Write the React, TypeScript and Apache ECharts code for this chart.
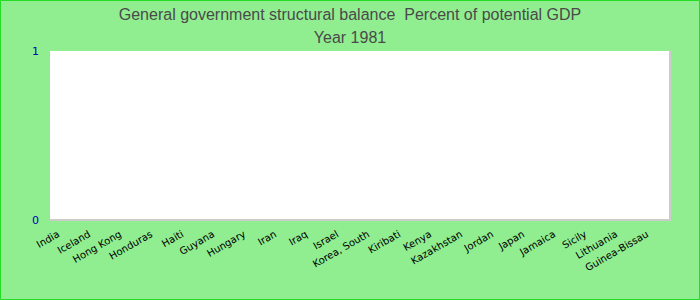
import React, { useEffect, useRef } from "react";
import * as echarts from "echarts";

const titleText = "General government structural balance  Percent of potential GDP";
const subtitleText = "Year 1981";
const categories = [
  "India", "Iceland", "Hong Kong", "Honduras", "Haiti", "Guyana", "Hungary",
  "Iran", "Iraq", "Israel", "Korea, South", "Kiribati", "Kenya", "Kazakhstan",
  "Jordan", "Japan", "Jamaica", "Sicily", "Lithuania", "Guinea-Bissau",
];
// No values are shown for 1981 in the reference
const values: (number | null)[] = categories.map(() => null);
const yTicks = [0, 1];

export default function App() {
  const ref = useRef<HTMLDivElement>(null);
  useEffect(() => {
    document.body.style.margin = "0";
    const chart = echarts.init(ref.current!, null, { renderer: "svg" });
    const titleStyle = {
      fontFamily: "Arial, Liberation Sans",
      fontSize: 16,
      fontWeight: "normal",
      color: "#4a4a4a",
    };
    chart.setOption({
      animation: false,
      backgroundColor: "#90EE90",
      title: [
        { text: titleText, left: "center", top: 1, textStyle: titleStyle },
        { text: subtitleText, left: "center", top: 24, textStyle: titleStyle },
      ],
      graphic: [
        {
          type: "rect",
          shape: { x: 0.5, y: 0.5, width: 699, height: 299 },
          style: { fill: "none", stroke: "#22dd22", lineWidth: 1 },
          silent: true,
        },
      ],
      grid: { left: 50, right: 30, top: 51, bottom: 80, show: true, backgroundColor: "#ffffff", borderWidth: 0 },
      xAxis: {
        type: "category",
        data: categories,
        axisLine: { show: true, lineStyle: { color: "#cccccc", width: 2 } },
        axisTick: { show: false },
        axisLabel: {
          interval: 0,
          rotate: 30,
          fontSize: 10,
          margin: 9,
          padding: [0, 8, 0, 0],
          color: "#000000",
          fontFamily: "DejaVu Sans, Verdana",
        },
      },
      yAxis: [
        {
          type: "value",
          min: yTicks[0],
          max: yTicks[yTicks.length - 1],
          interval: 1,
          axisLine: { show: false },
          axisTick: { show: false },
          splitLine: { show: false },
          axisLabel: { color: "#0000bb", fontSize: 11, margin: 11, fontFamily: "DejaVu Sans" },
        },
        {
          type: "value",
          position: "right",
          min: yTicks[0],
          max: yTicks[yTicks.length - 1],
          interval: 1,
          axisLine: { show: true, lineStyle: { color: "#cccccc", width: 2 } },
          axisTick: { show: false },
          splitLine: { show: false },
          axisLabel: { show: false },
        },
      ],
      series: [{ type: "bar", data: values, yAxisIndex: 0 }],
    });
    return () => chart.dispose();
  }, []);
  return <div ref={ref} style={{ width: 700, height: 300 }} />;
}
